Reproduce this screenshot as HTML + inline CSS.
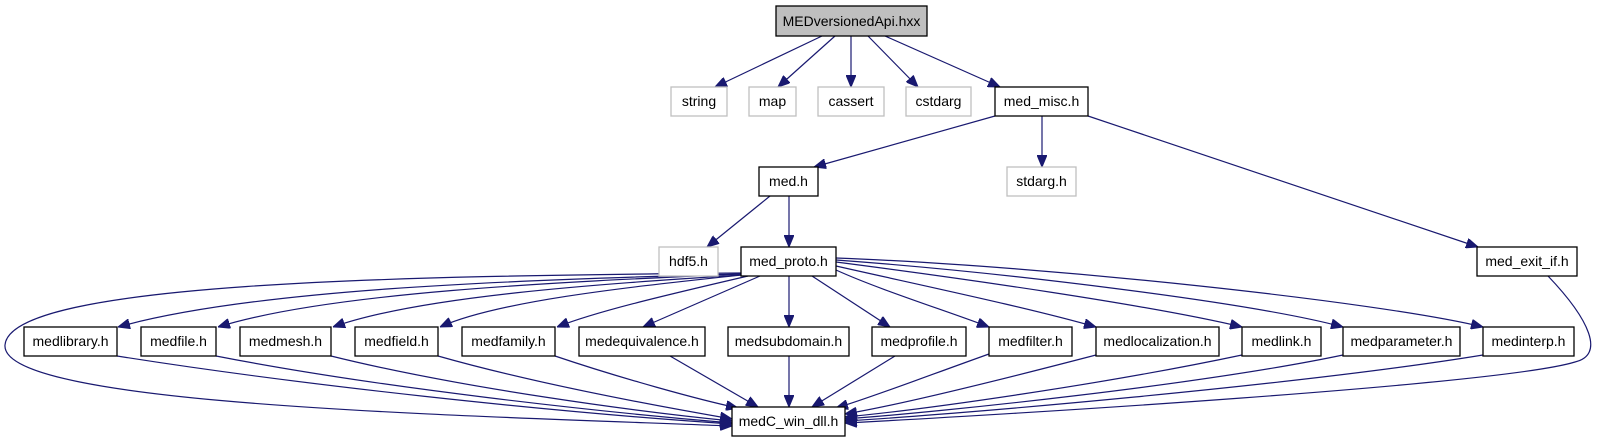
<!DOCTYPE html>
<html><head><meta charset="utf-8"><style>
html,body{margin:0;padding:0;background:#fff;}
svg{display:block;}
text{font-family:"Liberation Sans",Arial,sans-serif;font-size:14px;text-anchor:middle;fill:#000;}
.b{fill:#fff;stroke:#000;stroke-width:1.3;}
.g{fill:#fff;stroke:#bfbfbf;stroke-width:1.3;}
.e{fill:none;stroke:#191970;stroke-width:1.2;}
</style></head><body>
<svg width="1599" height="443" viewBox="0 0 1599 443" xmlns="http://www.w3.org/2000/svg">
<defs>
<marker id="a" viewBox="0 0 12 10" refX="12" refY="5" markerWidth="12" markerHeight="10" markerUnits="userSpaceOnUse" orient="auto">
<path d="M0,0 L12,5 L0,10 z" fill="#191970" stroke="#191970"/>
</marker>
</defs>
<g class="e" marker-end="url(#a)">
<path d="M822,36 L715,87"/>
<path d="M835,36 L778,87"/>
<path d="M851,36 L851,87"/>
<path d="M868,36 L918,87"/>
<path d="M885,36 L1000,87"/>
<path d="M995,116 L814,167"/>
<path d="M1042,116 L1042,167"/>
<path d="M1088,116 L1478,247"/>
<path d="M770,196 L707,247"/>
<path d="M789,196 L789,247"/>
<!-- med_proto to left -->
<path d="M741,274 C 500,280 250,290 118,327"/>
<path d="M741,274 C 560,282 330,292 218,327"/>
<path d="M741,275 C 600,284 420,296 333,327"/>
<path d="M741,275 C 640,286 500,300 440,327"/>
<path d="M748,276 C 680,292 600,310 557,327"/>
<path d="M760,276 L643,327"/>
<path d="M789,276 L789,327"/>
<path d="M812,276 L890,327"/>
<path d="M836,270 C 880,290 950,312 989,327"/>
<path d="M836,266 C 920,285 1030,308 1096,327"/>
<path d="M836,262 C 960,278 1150,305 1242,327"/>
<path d="M836,260 C 1000,272 1250,302 1343,327"/>
<path d="M836,258 C 1050,266 1380,302 1483,327"/>
<!-- loop to medC -->
<path d="M741,273 C 400,276 10,282 5,345 C 0,405 450,415 732,426"/>
<!-- row4 to medC -->
<path d="M117,356 C 300,385 550,412 732,424"/>
<path d="M216,356 C 380,388 600,412 732,423"/>
<path d="M331,356 C 460,388 640,412 732,421"/>
<path d="M438,356 C 540,385 680,410 732,419"/>
<path d="M555,356 C 620,378 700,400 738,408"/>
<path d="M670,356 L758,407"/>
<path d="M789,356 L789,407"/>
<path d="M895,356 L812,407"/>
<path d="M989,354 C 930,375 870,398 836,408"/>
<path d="M1096,355 C 1000,380 900,405 845,414"/>
<path d="M1242,355 C 1100,385 920,410 845,417"/>
<path d="M1343,355 C 1200,385 940,412 845,419"/>
<path d="M1483,355 C 1300,385 950,415 845,421"/>
<path d="M1548,276 C 1590,320 1605,355 1575,362 C 1500,385 1000,415 845,423"/>
</g>
<rect x="776" y="6" width="151" height="30" fill="#bfbfbf" stroke="#000" stroke-width="1.3"/>
<text x="851.5" y="26">MEDversionedApi.hxx</text>
<rect class="g" x="671" y="87" width="56" height="29"/><text x="699" y="106">string</text>
<rect class="g" x="749" y="87" width="47" height="29"/><text x="772.5" y="106">map</text>
<rect class="g" x="818" y="87" width="66" height="29"/><text x="851" y="106">cassert</text>
<rect class="g" x="906" y="87" width="65" height="29"/><text x="938.5" y="106">cstdarg</text>
<rect class="b" x="995" y="87" width="93" height="29"/><text x="1041.5" y="106">med_misc.h</text>
<rect class="b" x="759" y="167" width="59" height="29"/><text x="788.5" y="186">med.h</text>
<rect class="g" x="1007" y="167" width="69" height="29"/><text x="1041.5" y="186">stdarg.h</text>
<rect class="g" x="659" y="247" width="59" height="29"/><text x="688.5" y="266">hdf5.h</text>
<rect class="b" x="741" y="247" width="95" height="29"/><text x="788.5" y="266">med_proto.h</text>
<rect class="b" x="1477" y="247" width="100" height="29"/><text x="1527" y="266">med_exit_if.h</text>
<rect class="b" x="24" y="327" width="93" height="29"/><text x="70.5" y="346">medlibrary.h</text>
<rect class="b" x="141" y="327" width="75" height="29"/><text x="178.5" y="346">medfile.h</text>
<rect class="b" x="240" y="327" width="91" height="29"/><text x="285.5" y="346">medmesh.h</text>
<rect class="b" x="355" y="327" width="83" height="29"/><text x="396.5" y="346">medfield.h</text>
<rect class="b" x="462" y="327" width="93" height="29"/><text x="508.5" y="346">medfamily.h</text>
<rect class="b" x="579" y="327" width="126" height="29"/><text x="642" y="346">medequivalence.h</text>
<rect class="b" x="728" y="327" width="121" height="29"/><text x="788.5" y="346">medsubdomain.h</text>
<rect class="b" x="872" y="327" width="94" height="29"/><text x="919" y="346">medprofile.h</text>
<rect class="b" x="989" y="327" width="83" height="29"/><text x="1030.5" y="346">medfilter.h</text>
<rect class="b" x="1096" y="327" width="123" height="29"/><text x="1157.5" y="346">medlocalization.h</text>
<rect class="b" x="1242" y="327" width="79" height="29"/><text x="1281.5" y="346">medlink.h</text>
<rect class="b" x="1343" y="327" width="117" height="29"/><text x="1401.5" y="346">medparameter.h</text>
<rect class="b" x="1483" y="327" width="91" height="29"/><text x="1528.5" y="346">medinterp.h</text>
<rect class="b" x="732" y="407" width="113" height="29"/><text x="788.5" y="426">medC_win_dll.h</text>
</svg>
</body></html>
